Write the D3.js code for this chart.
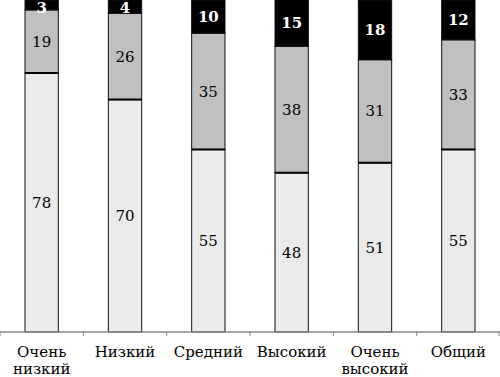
<!DOCTYPE html>
<html>
<head>
<meta charset="utf-8">
<script src="https://cdn.jsdelivr.net/npm/d3@7"></script>
<style>
  body { margin: 0; background: #fff; }
  svg text { font-family: "DejaVu Serif", serif; }
</style>
</head>
<body>
<svg width="500" height="377"></svg>
<script>
// categories (two-line labels)
const categories = [['Очень', 'низкий'], ['Низкий'], ['Средний'], ['Высокий'], ['Очень', 'высокий'], ['Общий']];
// series values, bottom to top
const lowVals = [78, 70, 55, 48, 51, 55];
const midVals = [19, 26, 35, 38, 31, 33];
const highVals = [3, 4, 10, 15, 18, 12];

const svg = d3.select('svg');
const width = 500, baseY = 332;

const keys = ['low', 'mid', 'high'];
const fills = { low: '#ebebeb', mid: '#c0c0c0', high: '#000000' };
const labelColor = { low: '#000', mid: '#000', high: '#fff' };

const rows = categories.map((c, i) => ({ i: i, low: lowVals[i], mid: midVals[i], high: highVals[i] }));
const stack = d3.stack().keys(keys)(rows);

const x = d3.scaleBand()
  .domain(d3.range(categories.length))
  .range([0, width])
  .paddingInner(0.6)
  .paddingOuter(0.3);

const band = d3.scaleBand()
  .domain(d3.range(categories.length))
  .range([0, width]);

const y = d3.scaleLinear()
  .domain([0, 100])
  .range([baseY, 0]);

const chart = svg.append('g');

stack.forEach(layer => {
  const g = chart.append('g');
  g.selectAll('rect')
    .data(layer)
    .enter()
    .append('rect')
      .attr('x', d => x(d.data.i))
      .attr('width', x.bandwidth())
      .attr('y', d => y(d[1]))
      .attr('height', d => y(d[0]) - y(d[1]))
      .attr('fill', fills[layer.key])
      .attr('stroke', '#111')
      .attr('stroke-width', 1);
});

// thicker line between light and grey parts
chart.selectAll('line.sep')
  .data(rows)
  .enter()
  .append('line')
    .attr('x1', d => x(d.i))
    .attr('x2', d => x(d.i) + x.bandwidth())
    .attr('y1', d => y(d.low))
    .attr('y2', d => y(d.low))
    .attr('stroke', '#000')
    .attr('stroke-width', 2);

// value labels
stack.forEach(layer => {
  chart.append('g').selectAll('text')
    .data(layer)
    .enter()
    .append('text')
      .attr('x', d => x(d.data.i) + x.bandwidth() / 2)
      .attr('y', d => Math.max((Math.max(y(d[1]), 0) + y(d[0])) / 2, 8))
      .attr('dy', '0.35em')
      .attr('text-anchor', 'middle')
      .attr('font-size', 15)
      .attr('font-weight', layer.key === 'high' ? 'bold' : 'normal')
      .attr('fill', labelColor[layer.key])
      .text(d => d[1] - d[0]);
});

// x axis
const axis = svg.append('g').attr('transform', `translate(0,${baseY})`);
axis.append('line')
  .attr('x1', 0).attr('x2', width)
  .attr('stroke', '#888').attr('stroke-width', 1.5);
axis.selectAll('line.tick')
  .data(d3.range(categories.length + 1))
  .enter()
  .append('line')
    .attr('x1', d => Math.min(band.step() * d, width - 1))
    .attr('x2', d => Math.min(band.step() * d, width - 1))
    .attr('y1', 0).attr('y2', 4)
    .attr('stroke', '#888');

const lbl = axis.selectAll('text.cat')
  .data(categories)
  .enter()
  .append('text')
    .attr('text-anchor', 'middle')
    .attr('font-size', 15)
    .attr('fill', '#000')
    .attr('transform', (d, i) => `translate(${band(i) + band.bandwidth() / 2},0)`);
lbl.selectAll('tspan')
  .data(d => d)
  .enter()
  .append('tspan')
    .attr('x', 0)
    .attr('y', (d, j) => 25 + j * 17)
    .text(d => d);
</script>
</body>
</html>
